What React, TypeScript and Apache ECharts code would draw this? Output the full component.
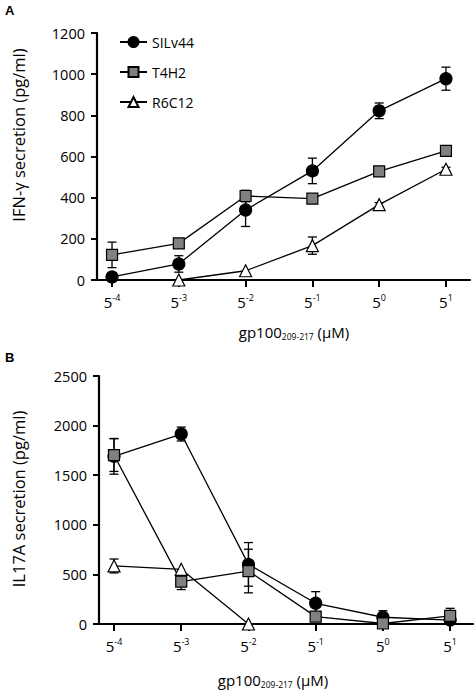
import React, { useEffect, useRef } from "react";
import * as echarts from "echarts";

const exponents = [-4, -3, -2, -1, 0, 1];
const seriesNames = ["SILv44", "T4H2", "R6C12"];

const ifnSIL = [15, 78, 340, 530, 822, 978];
const ifnSILErr = [0, 40, 80, 62, 38, 56];
const ifnT4H2 = [122, 178, 408, 395, 528, 627];
const ifnT4H2Err = [62, 10, 28, 15, 10, 10];
const ifnR6C12: (number | null)[] = [null, 0, 45, 167, 366, 538];
const ifnR6C12Err = [0, 0, 0, 42, 10, 10];

const il17SIL = [1690, 1915, 601, 209, 68, 40];
const il17SILErr = [180, 70, 220, 117, 66, 0];
const il17T4H2 = [1703, 427, 534, 74, 5, 81];
const il17T4H2Err = [165, 80, 220, 0, 0, 77];
const il17R6C12: (number | null)[] = [585, 551, 0, null, null, null];
const il17R6C12Err = [70, 0, 0, 0, 0, 0];

const FONT = "'Open Sans', 'Noto Sans', sans-serif";

const markerStyles = [
  { symbol: "circle", size: 12, fill: "#000000" },
  { symbol: "rect", size: 11, fill: "#808080" },
  { symbol: "triangle", size: 12, fill: "#ffffff" },
];

function lineSeries(name: string, vals: (number | null)[], idx: number, axis: number) {
  const m = markerStyles[idx];
  return {
    type: "line",
    name,
    xAxisIndex: axis,
    yAxisIndex: axis,
    data: exponents.map((e, i) => [e, vals[i] === null ? "-" : vals[i]]),
    symbol: m.symbol,
    symbolSize: m.size,
    showAllSymbol: true,
    clip: false,
    z: 3 + idx,
    lineStyle: { color: "#000", width: 1.3 },
    itemStyle: { color: m.fill, borderColor: "#000", borderWidth: 1.2, opacity: 1 },
    emphasis: { disabled: true },
  };
}

function errSeries(vals: (number | null)[], errs: number[], axis: number) {
  return {
    type: "custom",
    xAxisIndex: axis,
    yAxisIndex: axis,
    z: 2,
    silent: true,
    clip: false,
    data: exponents.map((e, i) => [e, vals[i] === null ? 0 : vals[i], vals[i] === null ? 0 : errs[i]]),
    encode: { x: 0, y: 1 },
    renderItem: (_p: any, api: any) => {
      const x = api.value(0);
      const y = api.value(1);
      const e = api.value(2);
      if (!e) return null;
      const top = api.coord([x, y + e]);
      const bot = api.coord([x, y - e]);
      const hw = 4.5;
      const st = { stroke: "#000", lineWidth: 1.3 };
      return {
        type: "group",
        children: [
          { type: "line", shape: { x1: top[0], y1: top[1], x2: bot[0], y2: bot[1] }, style: st },
          { type: "line", shape: { x1: top[0] - hw, y1: top[1], x2: top[0] + hw, y2: top[1] }, style: st },
          { type: "line", shape: { x1: bot[0] - hw, y1: bot[1], x2: bot[0] + hw, y2: bot[1] }, style: st },
        ],
      };
    },
  };
}

const xLabelRich = {
  b: { fontSize: 15, fontFamily: FONT, color: "#000", lineHeight: 18 },
  s: { fontSize: 9, fontFamily: FONT, color: "#000", lineHeight: 18, verticalAlign: "top" },
};

function xAxisDef(grid: number, min: number, max: number) {
  return {
    type: "value",
    gridIndex: grid,
    min,
    max,
    axisLine: { show: true, onZero: false, lineStyle: { color: "#000", width: 2.2 } },
    axisTick: { show: true, customValues: exponents, length: 7, lineStyle: { color: "#000", width: 2 } },
    axisLabel: {
      show: true,
      customValues: exponents,
      margin: 13,
      formatter: (v: number) => `{b|5}{s|${v}}`,
      rich: xLabelRich,
    },
    splitLine: { show: false },
  };
}

function yAxisDef(grid: number, max: number, interval: number) {
  return {
    type: "value",
    gridIndex: grid,
    min: 0,
    max,
    interval,
    axisLine: { show: true, onZero: false, lineStyle: { color: "#000", width: 2.2 } },
    axisTick: { show: true, length: 6, lineStyle: { color: "#000", width: 2 } },
    axisLabel: {
      fontSize: 14.5,
      fontFamily: FONT,
      color: "#000",
      margin: 12,
      formatter: (v: number) => String(v),
    },
    splitLine: { show: false },
  };
}

function xTitle(x: number, y: number) {
  return {
    type: "text",
    x,
    y,
    style: {
      text: "{m|gp100}{sub|209-217}{m| (μM)}",
      rich: {
        m: { fontSize: 15, fontFamily: FONT, fill: "#000", lineHeight: 18 },
        sub: { fontSize: 8.5, fontFamily: FONT, fill: "#000", lineHeight: 18, verticalAlign: "bottom" },
      },
      align: "center",
      verticalAlign: "middle",
    },
  };
}

function yTitle(text: string, x: number, y: number) {
  return {
    type: "text",
    x,
    y,
    rotation: Math.PI / 2,
    style: {
      text,
      fontSize: 16.5,
      fontFamily: FONT,
      fill: "#000",
      align: "center",
      verticalAlign: "middle",
    },
  };
}

export default function App() {
  const ref = useRef<HTMLDivElement>(null);
  useEffect(() => {
    document.body.style.margin = "0";
    const chart = echarts.init(ref.current!, null, { renderer: "svg" });
    chart.setOption({
      animation: false,
      backgroundColor: "#fff",
      textStyle: { fontFamily: FONT },
      grid: [
        { left: 97, right: 4, top: 33, bottom: 412 },
        { left: 99, right: 1, top: 376, bottom: 68 },
      ],
      xAxis: [xAxisDef(0, -4.225, 1.36), xAxisDef(1, -4.223, 1.34)],
      yAxis: [yAxisDef(0, 1200, 200), yAxisDef(1, 2500, 500)],
      legend: {
        data: seriesNames,
        orient: "vertical",
        left: 119,
        top: 35,
        padding: 0,
        itemWidth: 27,
        itemHeight: 12.5,
        itemGap: 16,
        textStyle: { fontSize: 14, fontFamily: FONT, color: "#000" },
        selectedMode: false,
      },
      graphic: [
        { type: "text", x: 5, y: 4, style: { text: "A", fontSize: 13, fontWeight: "bold", fontFamily: "'Liberation Sans', Arial, sans-serif", fill: "#000" } },
        { type: "text", x: 5, y: 351, style: { text: "B", fontSize: 13, fontWeight: "bold", fontFamily: "'Liberation Sans', Arial, sans-serif", fill: "#000" } },
        yTitle("IFN-γ secretion (pg/ml)", 18, 135),
        yTitle("IL17A secretion (pg/ml)", 18, 499),
        xTitle(294, 332),
        xTitle(273, 680),
      ],
      series: [
        errSeries(ifnSIL, ifnSILErr, 0),
        errSeries(ifnT4H2, ifnT4H2Err, 0),
        errSeries(ifnR6C12, ifnR6C12Err, 0),
        lineSeries(seriesNames[0], ifnSIL, 0, 0),
        lineSeries(seriesNames[1], ifnT4H2, 1, 0),
        lineSeries(seriesNames[2], ifnR6C12, 2, 0),
        errSeries(il17SIL, il17SILErr, 1),
        errSeries(il17T4H2, il17T4H2Err, 1),
        errSeries(il17R6C12, il17R6C12Err, 1),
        lineSeries(seriesNames[0], il17SIL, 0, 1),
        lineSeries(seriesNames[1], il17T4H2, 1, 1),
        lineSeries(seriesNames[2], il17R6C12, 2, 1),
      ],
    });
    return () => chart.dispose();
  }, []);
  return <div ref={ref} style={{ width: 474, height: 692 }} />;
}
